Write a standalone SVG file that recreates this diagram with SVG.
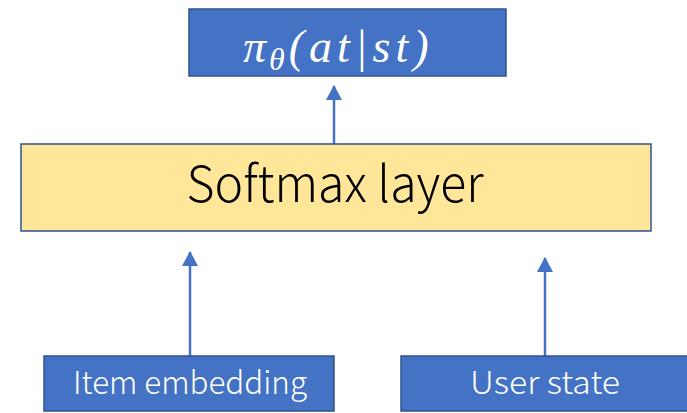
<svg xmlns="http://www.w3.org/2000/svg" width="687" height="413" viewBox="0 0 687 413">
  <style>
    .blue { fill: #4472C4; stroke: #2F528F; stroke-width: 1.5; }
    .yellow { fill: #FFE699; stroke: #2F528F; stroke-width: 1.5; }
    .label { font-family: "Noto Sans CJK JP", "Noto Sans", sans-serif; font-weight: 300; text-anchor: middle; }
    .math { font-family: "Liberation Serif", "DejaVu Serif", serif; font-style: italic; fill: #FFFFFF; }
    .conn { stroke: #4472C4; stroke-width: 2.5; fill: none; marker-end: url(#head); }
  </style>
  <defs>
    <marker id="head" viewBox="0 0 15 16" refX="14" refY="8" markerWidth="15" markerHeight="16" orient="auto" markerUnits="userSpaceOnUse">
      <path d="M0,0 L15,8 L0,16 z" fill="#4472C4"/>
    </marker>
  </defs>

  <g id="connectors">
    <line class="conn" x1="334" y1="153" x2="334" y2="86"/>
    <line class="conn" x1="190" y1="356" x2="190" y2="252"/>
    <line class="conn" x1="545" y1="356" x2="545" y2="258"/>
  </g>

  <g id="policy">
    <rect class="blue" x="189" y="9" width="317" height="67"/>
    <text class="math" x="243" y="62" font-size="46">π<tspan font-size="32" dy="8" dx="3">θ</tspan><tspan dy="-8" dx="4" letter-spacing="5">(at|st)</tspan></text>
  </g>

  <g id="softmax">
    <rect class="yellow" x="21" y="144" width="630" height="87"/>
    <text class="label" x="335" y="202" font-size="50" fill="#000000" textLength="297" lengthAdjust="spacingAndGlyphs">Softmax layer</text>
  </g>

  <g id="item-embedding">
    <rect class="blue" x="44" y="356" width="290" height="55"/>
    <text class="label" x="190" y="394" font-size="32" fill="#FFFFFF" textLength="234" lengthAdjust="spacingAndGlyphs">Item embedding</text>
  </g>

  <g id="user-state">
    <rect class="blue" x="401" y="356" width="292" height="55"/>
    <text class="label" x="545" y="394" font-size="32" fill="#FFFFFF" textLength="150" lengthAdjust="spacingAndGlyphs">User state</text>
  </g>
</svg>
